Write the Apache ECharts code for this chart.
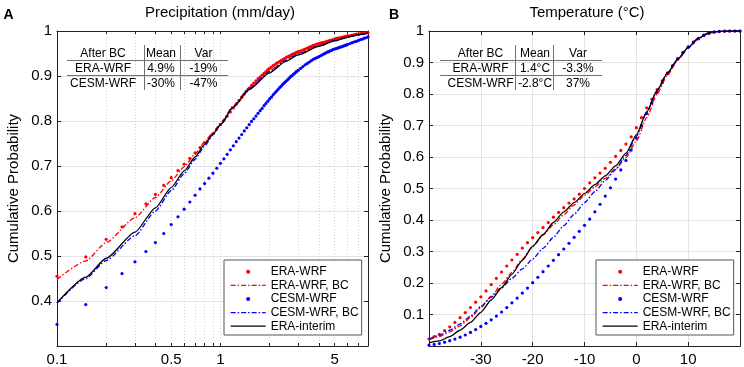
<!DOCTYPE html>
<html><head><meta charset="utf-8">
<script src="https://cdn.jsdelivr.net/npm/echarts@6/dist/echarts.min.js"></script>
<style>html,body{margin:0;padding:0;background:#fff}#c{width:744px;height:367px}</style>
</head><body><div id="c"></div>
<script>
// ---------------- DATA ----------------
const seriesNames = ['ERA-WRF', 'ERA-WRF, BC', 'CESM-WRF', 'CESM-WRF, BC', 'ERA-interim'];

// Panel A: precipitation (mm/day), log axis
const precipBins = [0.10,0.15,0.20,0.25,0.30,0.35,0.40,0.45,0.50,0.55,0.60,0.65,0.70,0.75,0.80,0.85,0.90,0.95,1.00,1.05,1.10,1.15,1.20,1.25,1.30,1.35,1.40,1.45,1.50,1.55,1.60,1.65,1.70,1.75,1.80,1.85,1.90,1.95,2.00,2.05,2.10,2.15,2.20,2.25,2.30,2.35,2.40,2.45,2.50,2.55,2.60,2.65,2.70,2.75,2.80,2.85,2.90,2.95,3.00,3.1,3.2,3.3,3.4,3.5,3.6,3.7,3.8,3.9,4.0,4.1,4.2,4.3,4.4,4.5,4.6,4.7,4.8,4.9,5.0,5.1,5.2,5.3,5.4,5.5,5.6,5.7,5.8,5.9,6.0,6.2,6.4,6.6,6.8,7.0,7.2,7.4,7.6,7.8,8.0];
const precipEraWrf = [0.455,0.498,0.537,0.565,0.594,0.616,0.637,0.657,0.674,0.690,
  0.704,0.717,0.729,0.741,0.752,0.762,0.772,0.782,0.792,0.801,
  0.811,0.820,0.829,0.838,0.846,0.853,0.860,0.867,0.873,0.879,
  0.884,0.889,0.894,0.898,0.902,0.906,0.910,0.914,0.917,0.920,
  0.923,0.925,0.928,0.930,0.932,0.934,0.936,0.938,0.940,0.942,
  0.943,0.945,0.946,0.948,0.949,0.950,0.952,0.953,0.954,
  0.956,0.958,0.960,0.962,0.964,0.966,0.968,0.969,0.971,0.972,
  0.973,0.974,0.975,0.976,0.977,0.978,0.979,0.980,0.981,0.982,
  0.983,0.984,0.984,0.985,0.986,0.986,0.987,0.988,0.988,0.989,
  0.990,0.991,0.992,0.993,0.993,0.994,0.995,0.995,0.996,0.996];
const precipCesmWrf = [0.348,0.392,0.430,0.461,0.487,0.510,0.530,0.550,0.570,0.587,
  0.604,0.620,0.635,0.649,0.661,0.673,0.684,0.695,0.706,0.716,
  0.726,0.736,0.745,0.754,0.762,0.770,0.778,0.785,0.792,0.799,
  0.805,0.811,0.817,0.823,0.828,0.834,0.839,0.844,0.849,0.853,
  0.858,0.862,0.866,0.870,0.874,0.877,0.881,0.884,0.887,0.890,
  0.893,0.896,0.899,0.901,0.904,0.906,0.909,0.911,0.913,
  0.917,0.921,0.925,0.928,0.931,0.934,0.937,0.939,0.941,0.943,
  0.945,0.947,0.949,0.951,0.953,0.954,0.956,0.957,0.959,0.960,
  0.961,0.962,0.963,0.964,0.965,0.966,0.967,0.968,0.969,0.970,
  0.972,0.974,0.976,0.977,0.979,0.981,0.982,0.984,0.985,0.987];
const precipKnots = [0.1,0.15,0.2,0.3,0.4,0.5,0.6,0.7,0.8,0.9,1,1.2,1.5,2,2.5,3,4,5,6,7,8];
const precipEraWrfBC = [0.448,0.489,0.530,0.585,0.630,0.667,0.698,0.727,0.753,0.774,0.795,0.834,0.874,0.912,0.936,0.951,0.969,0.980,0.987,0.992,0.996];
const precipCesmWrfBC = [0.395,0.450,0.490,0.545,0.600,0.645,0.683,0.715,0.744,0.769,0.791,0.832,0.872,0.910,0.934,0.949,0.967,0.979,0.986,0.991,0.995];
const precipEraInterim = [0.396,0.453,0.495,0.553,0.607,0.652,0.689,0.720,0.748,0.771,0.792,0.831,0.870,0.907,0.932,0.947,0.966,0.978,0.986,0.992,0.996];
const precipTickLabels = [0.1, 0.5, 1, 5];
const precipMinorTicks = [0.1,0.2,0.3,0.4,0.5,0.6,0.7,0.8,0.9,1,2,3,4,5,6,7,8];

// Panel B: temperature (°C)
const tempBins = [-40,-39,-38,-37,-36,-35,-34,-33,-32,-31,-30,-29,-28,-27,-26,-25,-24,-23,-22,-21,-20,-19,-18,-17,-16,-15,-14,-13,-12,-11,-10,-9,-8,-7,-6,-5,-4,-3,-2,-1,0,1,2,3,4,5,6,7,8,9,10,11,12,13,14,15,16,17,18,19,20];
const tempEraWrf = [0.022,0.030,0.037,0.049,0.061,0.075,0.090,0.106,0.122,0.139,
  0.156,0.175,0.195,0.215,0.235,0.254,0.273,0.291,0.311,0.328,
  0.344,0.360,0.376,0.392,0.409,0.424,0.439,0.454,0.467,0.482,
  0.500,0.518,0.534,0.549,0.564,0.583,0.602,0.621,0.641,0.664,
  0.693,0.725,0.756,0.783,0.814,0.842,0.867,0.890,0.911,0.931,
  0.948,0.963,0.975,0.985,0.992,0.996,0.998,0.999,1.000,1.000,1.000];
const tempCesmWrf = [0.003,0.005,0.008,0.012,0.017,0.022,0.028,0.035,0.043,0.052,
  0.062,0.072,0.083,0.095,0.108,0.122,0.137,0.152,0.168,0.184,
  0.201,0.218,0.236,0.254,0.272,0.290,0.308,0.326,0.345,0.364,
  0.383,0.403,0.426,0.450,0.476,0.502,0.530,0.559,0.589,0.622,
  0.660,0.700,0.738,0.772,0.805,0.836,0.864,0.889,0.912,0.932,
  0.950,0.965,0.977,0.987,0.993,0.997,0.999,1.000,1.000,1.000,1.000];
const tempKnots = [-40,-38,-36,-34,-32,-30,-28,-26,-24,-22,-20,-18,-16,-14,-12,-10,-8,-6,-4,-2,0,2,4,6,8,10,12,14,16,18,20];
const tempEraWrfBC = [0.020,0.030,0.045,0.064,0.090,0.122,0.158,0.196,0.234,0.275,0.316,0.352,0.385,0.417,0.448,0.478,0.505,0.532,0.562,0.598,0.650,0.725,0.800,0.860,0.908,0.947,0.978,0.994,0.999,1.000,1.000];
const tempCesmWrfBC = [0.022,0.034,0.050,0.070,0.095,0.125,0.155,0.185,0.215,0.245,0.276,0.310,0.345,0.382,0.418,0.455,0.490,0.525,0.560,0.605,0.665,0.742,0.812,0.867,0.910,0.946,0.976,0.993,0.999,1.000,1.000];
const tempEraInterim = [0.010,0.016,0.030,0.050,0.075,0.107,0.146,0.185,0.228,0.272,0.316,0.354,0.392,0.426,0.455,0.484,0.512,0.540,0.572,0.612,0.670,0.743,0.811,0.866,0.911,0.948,0.978,0.995,0.999,1.000,1.000];
const tempTicks = [-30, -20, -10, 0, 10];

// Tables
const tableHeader = ['After BC', 'Mean', 'Var'];
const precipTable = [['ERA-WRF', '4.9%', '-19%'], ['CESM-WRF', '-30%', '-47%']];
const tempTable = [['ERA-WRF', '1.4°C', '-3.3%'], ['CESM-WRF', '-2.8°C', '37%']];

// ---------------- CHART ----------------
const FONT = '"Liberation Sans", Arial, Helvetica, sans-serif';
const AX = '#222';
const GRID = '#e4e4e4';
const RED = '#ff0000', BLUE = '#0000ff', BLACK = '#000000';
const DASHDOT = [5, 2, 1.5, 2];
const pairs = (xs, ys) => xs.map((x, i) => [x, ys[i]]);
const fmtNum = v => String(+(+v).toPrecision(3));

const G = [
  { left: 57, top: 31, width: 311, height: 315 },
  { left: 429, top: 31, width: 311, height: 315 }
];

function mirrorAxis(base, pos) {
  const a = Object.assign({}, base);
  a.position = pos;
  a.name = '';
  a.axisLabel = { show: false };
  a.splitLine = { show: false };
  return a;
}

const tickStyle = { color: AX, width: 1 };
const axLine = { show: true, onZero: false, lineStyle: { color: AX, width: 1 } };
const xA0 = {
  type: 'log', logBase: 10, gridIndex: 0, min: 0.1, max: 8,
  axisLine: axLine,
  axisTick: { show: true, inside: true, length: 3, customValues: precipMinorTicks, lineStyle: tickStyle },
  axisLabel: { show: true, customValues: precipTickLabels, color: '#000', fontSize: 15, fontFamily: FONT, margin: 6, formatter: v => fmtNum(v) },
  splitLine: { show: true, lineStyle: { color: '#cfcfcf', width: 1, type: [1, 2] } }
};
const yA0 = {
  type: 'value', gridIndex: 0, min: 0.3, max: 1, interval: 0.1,
  name: 'Cumulative Probability', nameLocation: 'middle', nameGap: 36,
  nameTextStyle: { fontSize: 15, fontFamily: FONT, color: '#000' },
  axisLine: axLine,
  axisTick: { show: true, inside: true, length: 4, lineStyle: tickStyle },
  axisLabel: { color: '#000', fontSize: 15, fontFamily: FONT, margin: 5, formatter: v => (v < 0.35 ? '' : fmtNum(v)) },
  splitLine: { show: true, lineStyle: { color: GRID, width: 1 } }
};
const xA2 = {
  type: 'value', gridIndex: 1, min: -40, max: 20, interval: 10,
  axisLine: axLine,
  axisTick: { show: true, inside: true, length: 4, lineStyle: tickStyle },
  axisLabel: { color: '#000', fontSize: 15, fontFamily: FONT, margin: 6,
    formatter: v => (tempTicks.indexOf(Math.round(v)) >= 0 ? String(Math.round(v)) : '') },
  splitLine: { show: true, lineStyle: { color: GRID, width: 1 } }
};
const yA2 = {
  type: 'value', gridIndex: 1, min: 0, max: 1, interval: 0.1,
  name: 'Cumulative Probability', nameLocation: 'middle', nameGap: 36,
  nameTextStyle: { fontSize: 15, fontFamily: FONT, color: '#000' },
  axisLine: axLine,
  axisTick: { show: true, inside: true, length: 4, lineStyle: tickStyle },
  axisLabel: { color: '#000', fontSize: 15, fontFamily: FONT, margin: 5, formatter: v => (v < 0.05 ? '' : fmtNum(v)) },
  splitLine: { show: true, lineStyle: { color: GRID, width: 1 } }
};

function dotSeries(name, color, data, xi, yi) {
  return { type: 'scatter', name, xAxisIndex: xi, yAxisIndex: yi, data, symbol: 'circle', symbolSize: 3.2,
    itemStyle: { color, opacity: 1 }, silent: true, z: 2 };
}
function lineSeries(name, color, data, xi, yi, dash, z) {
  return { type: 'line', name, xAxisIndex: xi, yAxisIndex: yi, data, showSymbol: false, symbol: 'none',
    smooth: 0.2, smoothMonotone: 'x', lineStyle: { color, width: 1.3, type: dash }, itemStyle: { color }, silent: true, z };
}

const series = [
  dotSeries('ERA-WRF', RED, pairs(precipBins, precipEraWrf), 0, 0),
  lineSeries('ERA-WRF, BC', RED, pairs(precipKnots, precipEraWrfBC), 0, 0, DASHDOT, 3),
  dotSeries('CESM-WRF', BLUE, pairs(precipBins, precipCesmWrf), 0, 0),
  lineSeries('CESM-WRF, BC', BLUE, pairs(precipKnots, precipCesmWrfBC), 0, 0, DASHDOT, 4),
  lineSeries('ERA-interim', BLACK, pairs(precipKnots, precipEraInterim), 0, 0, 'solid', 5),
  dotSeries('ERA-WRF', RED, pairs(tempBins, tempEraWrf), 2, 2),
  lineSeries('ERA-WRF, BC', RED, pairs(tempKnots, tempEraWrfBC), 2, 2, DASHDOT, 3),
  dotSeries('CESM-WRF', BLUE, pairs(tempBins, tempCesmWrf), 2, 2),
  lineSeries('CESM-WRF, BC', BLUE, pairs(tempKnots, tempCesmWrfBC), 2, 2, DASHDOT, 4),
  lineSeries('ERA-interim', BLACK, pairs(tempKnots, tempEraInterim), 2, 2, 'solid', 5)
];

function legendAt(left) {
  return {
    show: true, orient: 'vertical', left, top: 260, selectedMode: false,
    padding: [5, 3, 2, 6], itemGap: 0, itemWidth: 35, itemHeight: 4, itemTextGap: 2,
    backgroundColor: '#fff', borderColor: '#555', borderWidth: 1,
    textStyle: { fontSize: 12, fontFamily: FONT, color: '#000', lineHeight: 13.6 },
    lineStyle: { width: 1.3 },
    data: seriesNames.map((n, i) => (i === 0 || i === 2) ? { name: n } : { name: n, itemStyle: { opacity: 0 } })
  };
}

function tableGraphics(rows, colX, lineX0, lineX1, vX) {
  const els = [];
  const font = '12px ' + FONT;
  const rowY = [53.3, 68.3, 83.3];
  const all = [tableHeader].concat(rows);
  all.forEach((r, ri) => r.forEach((t, ci) => {
    els.push({ type: 'text', silent: true, z: 20, style: { text: t, x: colX[ci], y: rowY[ri], textAlign: 'center', textVerticalAlign: 'middle', font, fill: '#000' } });
  }));
  [60.5, 75.5].forEach(y => els.push({ type: 'line', silent: true, z: 20, shape: { x1: lineX0, y1: y, x2: lineX1, y2: y }, style: { stroke: '#707070', lineWidth: 1 } }));
  vX.forEach(x => els.push({ type: 'line', silent: true, z: 20, shape: { x1: x, y1: 45, x2: x, y2: 90 }, style: { stroke: '#707070', lineWidth: 1 } }));
  return els;
}

const graphics = [
  { type: 'text', silent: true, style: { text: 'A', x: 8.5, y: 15, textAlign: 'center', textVerticalAlign: 'middle', font: 'bold 14px ' + FONT, fill: '#000' } },
  { type: 'text', silent: true, style: { text: 'B', x: 394, y: 15, textAlign: 'center', textVerticalAlign: 'middle', font: 'bold 14px ' + FONT, fill: '#000' } },
  { type: 'text', silent: true, style: { text: 'Precipitation (mm/day)', x: 220, y: 12.5, textAlign: 'center', textVerticalAlign: 'middle', font: '15px ' + FONT, fill: '#000' } },
  { type: 'text', silent: true, style: { text: 'Temperature (°C)', x: 587, y: 12.5, textAlign: 'center', textVerticalAlign: 'middle', font: '15px ' + FONT, fill: '#000' } }
].concat(
  tableGraphics(precipTable, [103, 161, 203.5], 67, 228, [144.5, 180.5]),
  tableGraphics(tempTable, [480.5, 535, 578], 440, 602, [515.5, 553.5])
);

const chart = echarts.init(document.getElementById('c'), null, { renderer: 'canvas' });
chart.setOption({
  animation: false,
  backgroundColor: '#fff',
  textStyle: { fontFamily: FONT },
  grid: G,
  xAxis: [xA0, mirrorAxis(xA0, 'top'), xA2, mirrorAxis(xA2, 'top')],
  yAxis: [yA0, mirrorAxis(yA0, 'right'), yA2, mirrorAxis(yA2, 'right')],
  legend: [legendAt(224), legendAt(596)],
  series,
  graphic: graphics
});
</script>
</body></html>
